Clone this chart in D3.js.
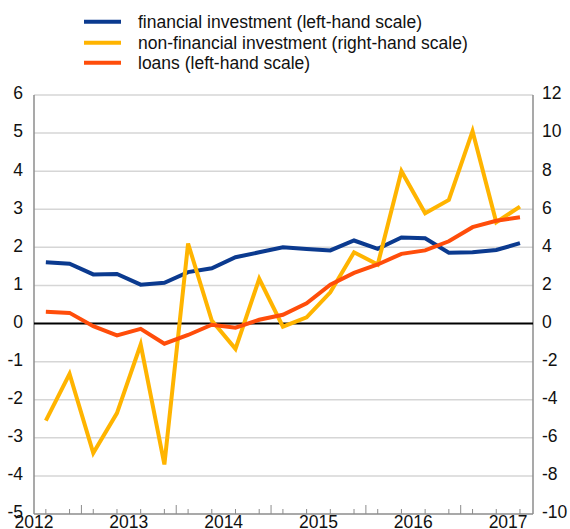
<!DOCTYPE html>
<html>
<head>
<meta charset="utf-8">
<script src="https://cdn.jsdelivr.net/npm/d3@7"></script>
<style>
  body { margin: 0; background: #fff; }
  text { font-family: "Liberation Sans", Arial, Helvetica, sans-serif; fill: #111; }
</style>
</head>
<body>
<svg id="chart" width="570" height="529"></svg>
<script>
// quarterly observations, 2012 Q1 .. 2017 Q1
const quarters = d3.range(21);
const yearLabels = ["2012", "2013", "2014", "2015", "2016", "2017"];
const leftTicks = [-5, -4, -3, -2, -1, 0, 1, 2, 3, 4, 5, 6];
const rightTicks = [-10, -8, -6, -4, -2, 0, 2, 4, 6, 8, 10, 12];

const financialInvestment = [1.61, 1.57, 1.29, 1.30, 1.02, 1.07, 1.35, 1.45, 1.74, 1.87, 2.00,
  1.96, 1.92, 2.18, 1.96, 2.26, 2.24, 1.86, 1.87, 1.93, 2.11];
const nonFinancialInvestment = [-5.1, -2.64, -6.8, -4.7, -1.1, -7.4, 4.2, 0.16, -1.33, 2.35, -0.16,
  0.33, 1.64, 3.74, 3.1, 8.0, 5.79, 6.49, 10.1, 5.32, 6.14];
const loans = [0.31, 0.28, -0.07, -0.31, -0.14, -0.53, -0.30, -0.03, -0.11, 0.10, 0.23,
  0.53, 1.02, 1.33, 1.55, 1.83, 1.92, 2.16, 2.53, 2.70, 2.79];

const series = [
  { name: "financial investment (left-hand scale)", values: financialInvestment, axis: "left", color: "#0b3a8f" },
  { name: "non-financial investment (right-hand scale)", values: nonFinancialInvestment, axis: "right", color: "#ffb400" },
  { name: "loans (left-hand scale)", values: loans, axis: "left", color: "#ff4d0a" },
];

const svg = d3.select("#chart");
const plotLeft = 34, plotRight = 533, plotTop = 95, plotBottom = 514;

const x = d3.scaleLinear().domain([-0.5, 20.55]).range([plotLeft, plotRight]);
const yL = d3.scaleLinear().domain([-5, 6]).range([plotBottom, plotTop]);
const yR = d3.scaleLinear().domain([-10, 12]).range([plotBottom, plotTop]);

// gridlines
svg.append("g")
  .selectAll("line")
  .data(leftTicks.filter((d) => d !== -5 && d !== 0))
  .join("line")
  .attr("x1", plotLeft).attr("x2", plotRight)
  .attr("y1", (d) => yL(d)).attr("y2", (d) => yL(d))
  .attr("stroke", "#d6d6d6")
  .attr("stroke-width", 1.5);

// frame: left, right and bottom axis lines
const axisColor = "#8c8c8c";
svg.append("line").attr("x1", plotLeft).attr("x2", plotLeft).attr("y1", plotTop).attr("y2", plotBottom)
  .attr("stroke", axisColor).attr("stroke-width", 1.5);
svg.append("line").attr("x1", plotRight).attr("x2", plotRight).attr("y1", plotTop).attr("y2", plotBottom)
  .attr("stroke", axisColor).attr("stroke-width", 1.5);

// bottom axis with ticks pointing up
const xAxis = svg.append("g").attr("transform", `translate(0,${plotBottom})`);
xAxis.append("line").attr("x1", plotLeft).attr("x2", plotRight)
  .attr("stroke", axisColor).attr("stroke-width", 1.5);
xAxis.selectAll(".q-tick")
  .data(quarters)
  .join("line")
  .attr("class", "q-tick")
  .attr("x1", (d) => x(d)).attr("x2", (d) => x(d))
  .attr("y1", 0).attr("y2", -5)
  .attr("stroke", axisColor).attr("stroke-width", 1);
xAxis.selectAll(".mid-tick")
  .data(d3.range(1.5, 20.5, 4))
  .join("line")
  .attr("class", "mid-tick")
  .attr("x1", (d) => x(d)).attr("x2", (d) => x(d))
  .attr("y1", 0).attr("y2", -9)
  .attr("stroke", axisColor).attr("stroke-width", 1);
xAxis.selectAll("text")
  .data(yearLabels)
  .join("text")
  .attr("x", (d, i) => x(i * 4 - 0.5))
  .attr("y", 13.5)
  .attr("text-anchor", "middle")
  .attr("font-size", 17.5)
  .text((d) => d);

// y tick labels
svg.append("g")
  .selectAll("text")
  .data(leftTicks)
  .join("text")
  .attr("x", 23)
  .attr("y", (d) => yL(d))
  .attr("dy", "0.25em")
  .attr("text-anchor", "end")
  .attr("font-size", 17.5)
  .text((d) => d);

svg.append("g")
  .selectAll("text")
  .data(rightTicks)
  .join("text")
  .attr("x", 542)
  .attr("y", (d) => yR(d))
  .attr("dy", "0.25em")
  .attr("text-anchor", "start")
  .attr("font-size", 17.5)
  .text((d) => d);

// zero line
svg.append("line")
  .attr("x1", plotLeft).attr("x2", plotRight)
  .attr("y1", yL(0)).attr("y2", yL(0))
  .attr("stroke", "#000").attr("stroke-width", 2);

// series lines
series.forEach((s) => {
  const yScale = s.axis === "left" ? yL : yR;
  const line = d3.line()
    .x((d, i) => x(i))
    .y((d) => yScale(d));
  svg.append("path")
    .datum(s.values)
    .attr("d", line)
    .attr("fill", "none")
    .attr("stroke", s.color)
    .attr("stroke-width", 4)
    .attr("stroke-linejoin", "miter");
});

// legend
const legend = svg.append("g");
const legendY = [21.7, 42.7, 62.7];
series.forEach((s, i) => {
  legend.append("line")
    .attr("x1", 84).attr("x2", 121)
    .attr("y1", legendY[i]).attr("y2", legendY[i])
    .attr("stroke", s.color).attr("stroke-width", 4);
  legend.append("text")
    .attr("x", 138)
    .attr("y", legendY[i])
    .attr("dy", "0.35em")
    .attr("font-size", 17.5)
    .text(s.name);
});
</script>
</body>
</html>
